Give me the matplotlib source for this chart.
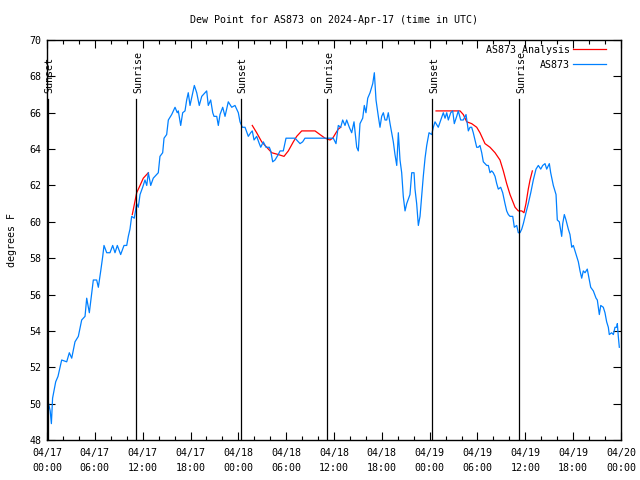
import matplotlib
matplotlib.use("Agg")
import matplotlib.pyplot as plt
import numpy as np

title = "Dew Point for AS873 on 2024-Apr-17 (time in UTC)"
ylabel = "degrees F"

# hours since 2024-04-17 00:00 UTC
obs_hours = [0.0, 0.1, 0.4, 0.55, 0.7, 1.09, 1.38, 1.84, 2.47, 2.80, 3.10, 3.51, 3.93, 4.35, 4.77,
             4.98, 5.31, 5.61, 5.81, 6.23, 6.44, 6.74, 6.99, 7.15, 7.49, 7.90, 8.24, 8.53, 8.82,
             9.24, 9.66, 10.00, 10.20, 10.41, 10.62, 10.95, 11.25, 11.45, 11.67, 12.00, 12.29,
             12.51, 12.71, 13.01, 13.33, 13.76, 13.96, 14.17, 14.51, 14.68, 15.01, 15.22, 15.64,
             16.06, 16.34, 16.47, 16.77, 17.02, 17.31, 17.52, 17.72, 17.94, 18.28, 18.48, 18.78,
             19.10, 19.41, 19.82, 20.03, 20.23, 20.53, 20.79, 20.95, 21.29, 21.49, 21.70, 22.04,
             22.33, 22.74, 23.17, 23.58, 24.00, 24.21, 24.50, 24.84, 25.25, 25.55, 25.75, 25.97,
             26.30, 26.63, 26.81, 27.13, 27.47, 27.89, 28.06, 28.31, 28.60, 29.01, 29.23, 29.64,
             29.98, 30.48, 31.11, 31.32, 31.74, 32.07, 32.36, 32.99, 33.83, 35.09, 35.91, 36.25,
             36.54, 36.84, 37.09, 37.38, 37.59, 37.92, 38.22, 38.51, 38.85, 39.05, 39.26, 39.60,
             39.80, 40.01, 40.23, 40.52, 40.86, 41.06, 41.27, 41.56, 41.77, 41.98, 42.19, 42.40,
             42.61, 42.81, 43.03, 43.24, 43.44, 43.65, 43.87, 44.07, 44.28, 44.49, 44.69, 44.91,
             45.12, 45.53, 45.75, 46.04, 46.16, 46.37, 46.58, 46.79, 47.00, 47.20, 47.42, 47.63,
             47.92, 48.26, 48.46, 48.67, 49.08, 49.39, 49.71, 49.93, 50.14, 50.34, 50.64, 50.89,
             51.09, 51.39, 51.59, 51.89, 52.22, 52.56, 52.85, 53.06, 53.27, 53.47, 53.69, 53.90,
             54.10, 54.31, 54.53, 54.73, 55.16, 55.36, 55.57, 55.78, 55.98, 56.20, 56.41, 56.61,
             56.91, 57.16, 57.45, 57.66, 57.87, 58.08, 58.42, 58.62, 58.92, 59.12, 59.33, 59.55,
             59.75, 60.08, 60.37, 60.68, 61.00, 61.34, 61.63, 61.93, 62.18, 62.47, 62.68, 63.01,
             63.18, 63.51, 63.85, 64.01, 64.26, 64.56, 64.69, 64.89, 65.10, 65.39, 65.60, 65.82,
             66.02, 66.23, 66.44, 66.65, 66.86, 67.07, 67.27, 67.49, 67.77, 68.03, 68.20, 68.53,
             68.87, 69.03, 69.28, 69.46, 69.78, 69.99, 70.20, 70.41, 70.53, 70.83, 71.04, 71.25,
             71.46, 71.54, 71.66, 71.79]
obs_dewpt = [50.7, 50.2, 49.6, 48.9, 50.3, 51.2, 51.5, 52.4, 52.3, 52.8, 52.5, 53.4, 53.7, 54.6, 54.8,
             55.8, 55.0, 56.1, 56.8, 56.8, 56.4, 57.3, 58.1, 58.7, 58.3, 58.3, 58.7, 58.3, 58.7,
             58.2, 58.7, 58.7, 59.2, 59.6, 60.3, 60.2, 61.0, 60.8, 61.5, 61.9, 62.3,
             62.0, 62.7, 62.0, 62.4, 62.6, 62.7, 63.6, 63.8, 64.6, 64.8, 65.6, 65.9,
             66.3, 66.0, 66.1, 65.3, 66.0, 66.1, 66.7, 67.1, 66.4, 67.1, 67.5, 67.1,
             66.4, 66.9, 67.1, 67.2, 66.4, 66.7, 66.0, 65.8, 65.8, 65.3, 65.9, 66.3,
             65.8, 66.6, 66.3, 66.4, 66.0, 65.5, 65.2, 65.2, 64.7, 64.9, 65.0, 64.5,
             64.7, 64.3, 64.1, 64.4, 64.1, 64.1, 63.9, 63.3, 63.4, 63.7, 63.9, 63.9,
             64.6, 64.6, 64.6, 64.5, 64.3, 64.4, 64.6, 64.6, 64.6, 64.6, 64.6, 64.3,
             65.3, 65.2, 65.6, 65.3, 65.6, 65.2, 64.9, 65.5, 64.1, 63.9, 65.4, 65.7,
             66.4, 66.0, 66.8, 67.1, 67.6, 68.2, 66.7, 65.8, 65.2, 65.8, 66.0, 65.6,
             65.6, 66.0, 65.4, 64.9, 64.4, 63.7, 63.1, 64.9, 63.4, 62.7, 61.4, 60.6,
             61.0, 61.5, 62.7, 62.7, 61.8, 61.0, 59.8, 60.3, 61.4, 62.5, 63.5, 64.2,
             64.9, 64.8, 65.2, 65.5, 65.2, 65.6, 66.0, 65.7, 66.0, 65.6, 66.0, 66.1,
             65.4, 65.8, 66.1, 65.6, 65.6, 65.9, 65.0, 65.2, 65.2, 64.9, 64.5, 64.1,
             64.1, 64.2, 63.8, 63.3, 63.1, 63.1, 62.7, 62.8, 62.7, 62.5, 62.1, 61.8,
             61.9, 61.6, 61.0, 60.6, 60.4, 60.3, 60.3, 59.7, 59.8, 59.4, 59.4, 59.6,
             59.9, 60.5, 61.0, 61.6, 62.3, 62.9, 63.1, 62.9, 63.1, 63.2, 62.9, 63.2,
             62.7, 62.0, 61.5, 60.1, 60.0, 59.2, 59.9, 60.4, 60.1, 59.6, 59.3, 58.6,
             58.7, 58.4, 58.1, 57.8, 57.3, 56.9, 57.3, 57.2, 57.4, 56.8, 56.4, 56.2,
             55.8, 55.7, 54.9, 55.4, 55.3, 55.0, 54.5, 54.2, 53.8, 53.9, 53.8, 54.2,
             54.2, 54.4, 53.7, 53.1]

ana1_hours = [10.70, 11.25, 11.67, 12.08, 12.71]
ana1_dewpt = [60.4, 61.6, 62.0, 62.4, 62.7]
ana2_hours = [25.75, 26.30, 26.93, 27.56, 28.19, 29.01, 29.73, 30.27, 30.90, 31.32, 31.95, 32.78,
              33.62, 34.24, 34.87, 35.50, 35.84, 36.25, 36.54, 36.84]
ana2_dewpt = [65.3, 64.9, 64.4, 64.1, 63.8, 63.7, 63.6, 63.9, 64.4, 64.7, 65.0, 65.0,
              65.0, 64.8, 64.6, 64.5, 64.6, 64.9, 65.1, 65.2]
ana3_hours = [48.80, 49.51, 50.55, 51.81, 52.22, 52.65, 53.27, 53.90, 54.31, 54.94, 55.57, 56.20,
              56.82, 57.24, 57.66, 58.08, 58.71, 59.12, 59.55, 59.83, 60.08, 60.37, 60.59, 60.88]
ana3_dewpt = [66.1, 66.1, 66.1, 66.1, 65.9, 65.5, 65.4, 65.2, 64.9, 64.3, 64.1, 63.8,
              63.4, 62.8, 62.1, 61.5, 60.8, 60.6, 60.6, 60.5, 61.0, 61.8, 62.3, 62.8]

sun_hours = [0.1, 11.2, 24.3, 35.16, 48.34, 59.25]
sun_labels = ["Sunset", "Sunrise", "Sunset", "Sunrise", "Sunset", "Sunrise"]

xtick_hours = [0, 6, 12, 18, 24, 30, 36, 42, 48, 54, 60, 66, 72]
xtick_labels = ["04/17\n00:00", "04/17\n06:00", "04/17\n12:00", "04/17\n18:00",
                "04/18\n00:00", "04/18\n06:00", "04/18\n12:00", "04/18\n18:00",
                "04/19\n00:00", "04/19\n06:00", "04/19\n12:00", "04/19\n18:00",
                "04/20\n00:00"]
yticks = [48, 50, 52, 54, 56, 58, 60, 62, 64, 66, 68, 70]

plt.rcParams['font.family'] = ['DejaVu Sans Mono']
FS = 7.2

fig = plt.figure(figsize=(6.4, 4.8), dpi=100)
ax = fig.add_axes([47/640, 40/480, 574/640, 400/480])

red = '#ff0000'
blue = '#0080ff'
ax.plot(ana1_hours, ana1_dewpt, color=red, lw=0.9, label='AS873 Analysis')
ax.plot(ana2_hours, ana2_dewpt, color=red, lw=0.9)
ax.plot(ana3_hours, ana3_dewpt, color=red, lw=0.9)
ax.plot(obs_hours, obs_dewpt, color=blue, lw=0.9, label='AS873')

for h, lab in zip(sun_hours, sun_labels):
    ax.plot([h, h], [48, 66.75], color='black', lw=0.9)
    ax.text(h + 0.2, 67.1, lab, rotation=90, ha='center', va='bottom', fontsize=FS)

ax.set_xlim(0, 72)
ax.set_ylim(48, 70)
ax.set_xticks(xtick_hours)
ax.set_xticklabels(xtick_labels, fontsize=FS, linespacing=1.55)
ax.set_xticks(np.arange(0, 73, 2), minor=True)
ax.set_yticks(yticks)
ax.set_yticklabels([str(v) for v in yticks], fontsize=FS)
ax.tick_params(which='both', direction='in', top=True, right=True, width=0.8)
ax.tick_params(which='major', length=6, pad=4)
ax.tick_params(axis='x', which='major', pad=6)
ax.tick_params(which='minor', length=3)
ax.tick_params(axis='y', which='minor', left=False, right=False)
for s in ax.spines.values():
    s.set_linewidth(1.0)

ax.set_title(title, fontsize=FS, pad=12)
ax.set_ylabel(ylabel, fontsize=FS, labelpad=9)

leg = ax.legend(loc='upper right', bbox_to_anchor=(1 - 12/574, 1 - 2/400), frameon=False,
                markerfirst=False, fontsize=FS,
                handlelength=3.3, handletextpad=0.3, borderaxespad=0.1, labelspacing=0.5,
                borderpad=0.2)

fig.savefig('out.png', dpi=100)
